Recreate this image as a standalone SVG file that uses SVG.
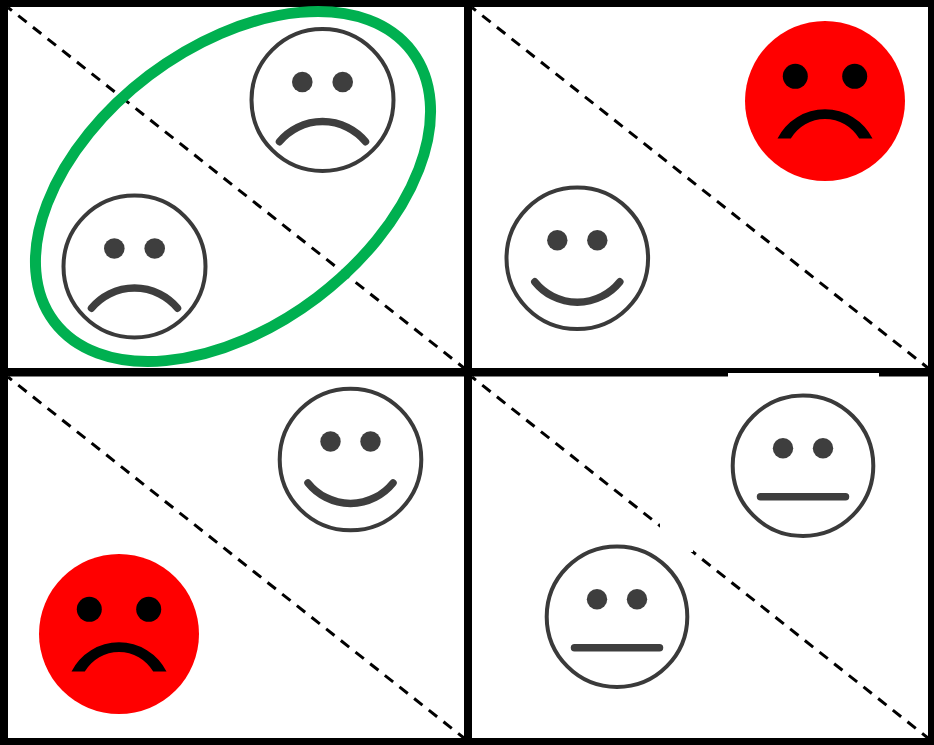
<svg xmlns="http://www.w3.org/2000/svg" width="934" height="745" viewBox="0 0 934 745">
<style>
.panel{fill:#fff}
.div{fill:none;stroke:#000;stroke-width:3;stroke-dasharray:10.6 8.1;stroke-dashoffset:5.6}
.ring{fill:#fff;stroke:#3a3a3a;stroke-width:4}
.eye{fill:#3e3e3e}
.mouth{fill:none;stroke:#3e3e3e;stroke-width:7.500;stroke-linecap:round}
.red{fill:#f00}
.redeye{fill:#000}
</style>
<defs>
<g id="sad">
<circle class="ring" cx="0" cy="0" r="71"/>
<circle class="eye" cx="-20.200" cy="-18" r="10.300"/>
<circle class="eye" cx="20.200" cy="-18" r="10.300"/>
<path class="mouth" d="M-43 41.700A56 56 0 0 1 43 41.700"/>
</g>
<g id="happy">
<circle class="ring" cx="0" cy="0" r="70.800"/>
<circle class="eye" cx="-20" cy="-18" r="10.200"/>
<circle class="eye" cx="20" cy="-18" r="10.200"/>
<path class="mouth" d="M-42.500 23.500A54.500 54.500 0 0 0 42.500 23.500"/>
</g>
<g id="flat">
<circle class="ring" cx="0" cy="0" r="70.300"/>
<circle class="eye" cx="-20" cy="-17.500" r="10.200"/>
<circle class="eye" cx="20" cy="-17.500" r="10.200"/>
<path class="mouth" d="M-42.500 31H42.500"/>
</g>
<g id="angry">
<circle class="red" cx="0" cy="0" r="80"/>
<circle class="redeye" cx="-29.700" cy="-24.700" r="12.500"/>
<circle class="redeye" cx="29.700" cy="-24.700" r="12.500"/>
<path class="redeye" d="M-47.500 37.500H-34.200A39.700 39.700 0 0 1 34.200 37.500H47.500A53.200 53.200 0 0 0 -47.500 37.500Z"/>
</g>
</defs>
<rect id="frame" width="934" height="745" fill="#000"/>
<g id="panels">
<rect class="panel" x="8" y="7" width="456" height="361"/>
<rect class="panel" x="472" y="7" width="456" height="361"/>
<rect class="panel" x="8" y="376.500" width="456" height="361.500"/>
<rect class="panel" x="472" y="376.500" width="456" height="361.500"/>
<rect class="panel" x="728" y="373" width="151" height="4"/>
</g>
<g id="connectors">
<path class="div" d="M8 7.500L464 368"/>
<path class="div" d="M472 7.500L928 368"/>
<path class="div" d="M8 377L464 738"/>
<path class="div" d="M472 377L928 738"/>
<rect class="panel" x="660" y="521" width="33" height="31"/>
</g>
<g id="face-tl-top"><use href="#sad" x="322.500" y="100"/></g>
<g id="face-tl-bottom"><use href="#sad" x="134.500" y="266.500"/></g>
<g id="face-tr-red"><use href="#angry" x="825" y="101"/></g>
<g id="face-tr-smile"><use href="#happy" x="577.300" y="258.300"/></g>
<g id="face-bl-smile"><use href="#happy" x="350.500" y="459.500"/></g>
<g id="face-bl-red"><use href="#angry" x="119" y="634"/></g>
<g id="face-br-top"><use href="#flat" x="803" y="465.700"/></g>
<g id="face-br-bottom"><use href="#flat" x="617" y="616.700"/></g>
<g id="group-ring"><ellipse cx="233" cy="186.500" rx="224.200" ry="139.200" transform="rotate(-37.100 233 186.500)" fill="none" stroke="#00b050" stroke-width="11"/></g>
</svg>
